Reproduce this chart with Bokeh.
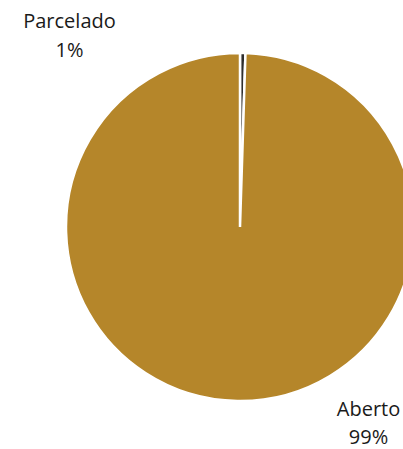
import math
from bokeh.plotting import figure
from bokeh.models import ColumnDataSource, Range1d
from bokeh.core.properties import value
from bokeh.embed import file_html
from bokeh.resources import INLINE

categories = ["Parcelado", "Aberto"]
values = [0.5, 99.5]
pct_labels = ["1%", "99%"]
colors = ["#2e2e2e", "#B5862A"]

W, H = 403, 449
p = figure(width=W, height=H, output_backend="svg", toolbar_location=None,
           x_range=Range1d(0, W), y_range=Range1d(0, H), min_border=0)
p.axis.visible = False
p.grid.visible = False
p.outline_line_color = None
p.background_fill_color = "white"
p.border_fill_color = "white"

cx, cy, r = 239.5, 222.5, 174
total = sum(values)
starts, ends = [], []
acc = 0.0
for v in values:
    starts.append(math.pi / 2 - 2 * math.pi * acc / total)
    acc += v
    ends.append(math.pi / 2 - 2 * math.pi * acc / total)

src = ColumnDataSource(dict(cat=categories, val=values, start=starts, end=ends, color=colors))
p.wedge(x=cx, y=cy, radius=r, start_angle="start", end_angle="end", direction="clock",
        fill_color="color", line_color="white", line_width=2.5, source=src)

label_x = [69, 368]
name_y = [429, 41]
pct_y = [400, 13]
p.text(x=label_x, y=name_y, text=categories, text_align="center", text_baseline="alphabetic",
       text_font=value("Open Sans"), text_font_size="20px", text_color="#1a1a1a")
p.text(x=label_x, y=pct_y, text=pct_labels, text_align="center", text_baseline="alphabetic",
       text_font=value("Open Sans"), text_font_size="20px", text_color="#1a1a1a")

open("out.html", "w").write(file_html(p, INLINE))
